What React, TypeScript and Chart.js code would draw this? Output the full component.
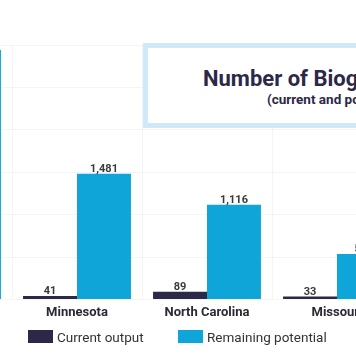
import React, { useEffect, useRef } from "react";
import { Chart, registerables } from "chart.js";

Chart.register(...registerables);

// Data (the chart is a cropped view of a wider chart)
const categories = ["Iowa", "Minnesota", "North Carolina", "Missouri"];
const currentOutput = [100, 41, 89, 33];
const remainingPotential = [2940, 1481, 1116, 535];
const yTicks = [0, 500, 1000, 1500, 2000, 2500, 3000];
const seriesNames = ["Current output", "Remaining potential"];
const titleText = "Number of Biogas Projects";
const subtitleText = "(current and potential)";

const NAVY = "#2b2947";
const CYAN = "#10a5d8";

const valueLabels = {
  id: "valueLabels",
  afterDatasetsDraw(chart: any) {
    const ctx = chart.ctx;
    ctx.save();
    ctx.font = "bold 11px Roboto";
    ctx.fillStyle = "#3a3a3a";
    ctx.textAlign = "center";
    ctx.textBaseline = "alphabetic";
    chart.data.datasets.forEach((ds: any, di: number) => {
      const meta = chart.getDatasetMeta(di);
      meta.data.forEach((el: any, i: number) => {
        const v = ds.data[i];
        ctx.fillText(Number(v).toLocaleString("en-US"), el.x, el.y - 2);
      });
    });
    ctx.restore();
  },
};

export default function App() {
  const canvasRef = useRef<HTMLCanvasElement | null>(null);
  const wrapRef = useRef<HTMLDivElement | null>(null);

  useEffect(() => {
    if (!canvasRef.current) return;
    const chart = new Chart(canvasRef.current, {
      type: "bar",
      data: {
        labels: categories,
        datasets: [
          {
            label: seriesNames[0],
            data: currentOutput,
            backgroundColor: NAVY,
            categoryPercentage: 0.83,
            barPercentage: 1,
          },
          {
            label: seriesNames[1],
            data: remainingPotential,
            backgroundColor: CYAN,
            categoryPercentage: 0.83,
            barPercentage: 1,
          },
        ],
      },
      options: {
        responsive: false,
        animation: false,
        layout: { padding: { top: 45, bottom: 37, left: 0, right: 0 } },
        plugins: {
          legend: { display: false },
          title: { display: false },
          tooltip: { enabled: false },
        },
        scales: {
          x: {
            grid: { color: "rgba(0,0,0,0.04)", drawTicks: false, offset: true },
            border: { display: false },
            ticks: {
              padding: 6,
              color: "#2a2a35",
              font: { family: "Roboto", size: 13, weight: "bold" },
            },
          },
          y: {
            min: yTicks[0],
            max: yTicks[yTicks.length - 1],
            afterBuildTicks: (scale: any) => {
              scale.ticks = yTicks.map((v) => ({ value: v }));
            },
            grid: { color: "rgba(0,0,0,0.04)", drawTicks: false },
            border: { display: false },
            ticks: { display: false },
          },
        },
      },
      plugins: [valueLabels],
    });
    // align so that Minnesota's center sits at x=77 in the view
    const px = chart.scales.x.getPixelForValue(1);
    if (wrapRef.current) wrapRef.current.style.left = `${77 - px}px`;
    return () => chart.destroy();
  }, []);

  const legendText: React.CSSProperties = {
    position: "absolute",
    top: 328,
    fontFamily: "Roboto",
    fontSize: 13.5,
    lineHeight: "18px",
    color: "#333",
    whiteSpace: "nowrap",
  };

  return (
    <div
      style={{
        position: "fixed",
        left: 0,
        top: 0,
        width: 356,
        height: 364,
        overflow: "hidden",
        background: "#fff",
      }}
    >
      <div ref={wrapRef} style={{ position: "absolute", left: -115, top: 0 }}>
        <canvas ref={canvasRef} width={520} height={364} style={{ display: "block" }} />
      </div>
      <div
        style={{
          position: "absolute",
          left: 143,
          top: 43,
          width: 330,
          height: 85,
          boxSizing: "border-box",
          border: "5px solid #cfe9f9",
          background: "#fff",
        }}
      />
      <div
        style={{
          position: "absolute",
          left: 203,
          top: 68,
          fontFamily: "Roboto",
          fontWeight: "bold",
          fontSize: 22,
          lineHeight: "22px",
          color: NAVY,
          whiteSpace: "nowrap",
        }}
      >
        {titleText}
      </div>
      <div
        style={{
          position: "absolute",
          left: 267,
          top: 92,
          fontFamily: "Roboto",
          fontWeight: "bold",
          fontSize: 13.5,
          lineHeight: "14px",
          color: NAVY,
          whiteSpace: "nowrap",
        }}
      >
        {subtitleText}
      </div>
      <div style={{ position: "absolute", left: 28, top: 330, width: 25, height: 13, background: NAVY }} />
      <div style={{ ...legendText, left: 57 }}>{seriesNames[0]}</div>
      <div style={{ position: "absolute", left: 178, top: 330, width: 25, height: 13, background: CYAN }} />
      <div style={{ ...legendText, left: 207 }}>{seriesNames[1]}</div>
    </div>
  );
}
